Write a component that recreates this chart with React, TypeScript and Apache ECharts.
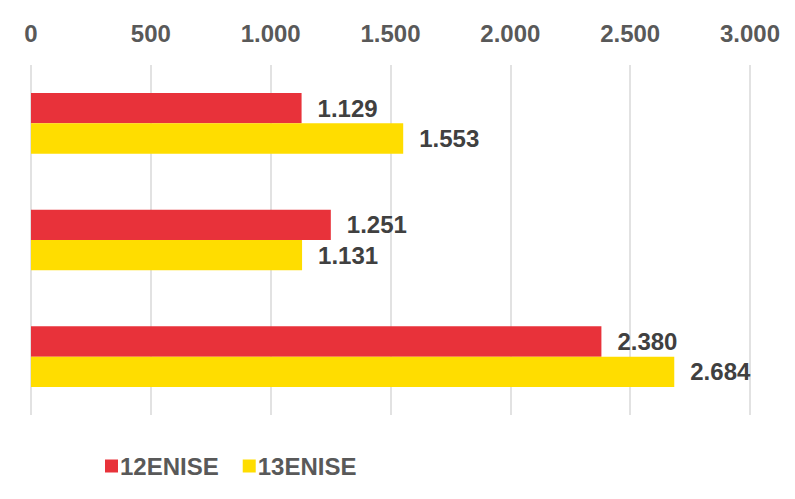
import React, { useEffect, useRef } from "react";
import * as echarts from "echarts";

const categories = ["A", "B", "C"];
const series12 = [1129, 1251, 2380];
const series13 = [1553, 1131, 2684];
const seriesNames = ["12ENISE", "13ENISE"];

const fmt = (v: number) => String(Math.round(v)).replace(/\B(?=(\d{3})+(?!\d))/g, ".");

export default function App() {
  const ref = useRef<HTMLDivElement>(null);
  useEffect(() => {
    const chart = echarts.init(ref.current!, undefined, { renderer: "svg" });
    const font = "'Liberation Sans Narrow', 'Arial Narrow', sans-serif";
    const labelCfg = {
      show: true,
      position: "right" as const,
      distance: 16,
      color: "#404040",
      fontWeight: "bold" as const,
      fontSize: 24,
      fontFamily: font,
      formatter: (p: any) => fmt(p.value),
    };
    chart.setOption({
      animation: false,
      textStyle: { fontFamily: font },
      grid: { left: 31, right: 45, top: 65, height: 350 },
      legend: {
        bottom: 16,
        left: 100,
        itemWidth: 13,
        itemHeight: 13,
        itemGap: 24,
        icon: "rect",
        textStyle: { color: "#595959", fontWeight: "bold", fontSize: 24, fontFamily: font, padding: [0, 0, 0, -3] },
        data: seriesNames,
      },
      xAxis: {
        type: "value",
        position: "top",
        min: 0,
        max: 3000,
        interval: 500,
        axisLine: { show: false },
        axisTick: { show: false },
        axisLabel: {
          color: "#595959",
          fontWeight: "bold",
          fontSize: 24,
          fontFamily: font,
          margin: 20,
          formatter: (v: number) => fmt(v),
        },
        splitLine: { show: true, lineStyle: { color: "#d9d9d9", width: 1.5 } },
      },
      yAxis: {
        type: "category",
        data: categories,
        inverse: true,
        axisLine: { show: false },
        axisTick: { show: false },
        axisLabel: { show: false },
      },
      series: [
        {
          name: seriesNames[0],
          type: "bar",
          data: series12,
          itemStyle: { color: "#E8323A" },
          barGap: "0%",
          barCategoryGap: "48%",
          label: labelCfg,
        },
        {
          name: seriesNames[1],
          type: "bar",
          data: series13,
          itemStyle: { color: "#FFDD00" },
          barGap: "0%",
          barCategoryGap: "48%",
          label: labelCfg,
        },
      ],
    });
    return () => chart.dispose();
  }, []);
  return <div ref={ref} style={{ width: 795, height: 499, position: "absolute", left: 0, top: 0 }} />;
}
